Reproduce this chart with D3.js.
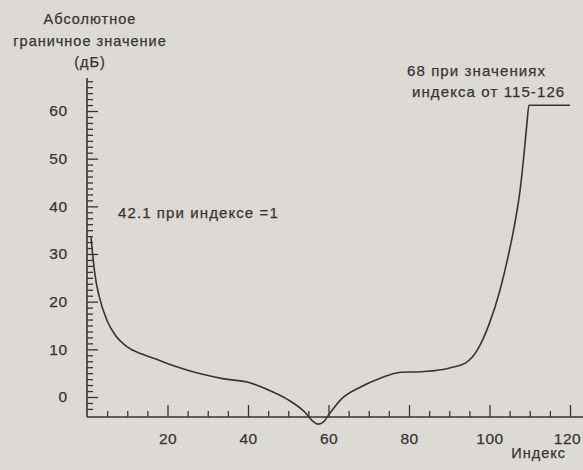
<!DOCTYPE html>
<html>
<head>
<meta charset="utf-8">
<script src="https://cdn.jsdelivr.net/npm/d3@7"></script>
<style>
  html, body { margin: 0; padding: 0; background: #ddd9d4; }
  svg { display: block; }
  text { font-family: "Liberation Sans", Arial, sans-serif; fill: #353535; stroke: #353535; stroke-width: 0.25px; }
</style>
</head>
<body>
<svg id="chart" width="583" height="470"></svg>
<script>
// ---- data ----
const indexValues = [1, 2, 3, 5, 7, 10, 14, 17, 21, 25, 29, 34, 40, 45, 50, 54, 56, 57.3, 58.8, 60, 63, 68, 73, 78, 83, 88, 91, 94, 97, 100, 102.6, 104.6, 106.3, 107.6, 108.5, 109.3, 109.8, 120];
const limitDb     = [33.5, 25.5, 21.2, 16, 13, 10.5, 8.9, 8.0, 6.7, 5.6, 4.7, 3.8, 3.1, 1.5, -0.6, -3.1, -5.0, -5.7, -5.2, -3.8, -0.6, 2.1, 4, 5.2, 5.3, 5.7, 6.3, 7.1, 9.9, 15.5, 22.4, 29.4, 36.5, 43.4, 50.3, 57.4, 61.2, 61.2];
const xMajorTicks = [20, 40, 60, 80, 100, 120];
const yMajorTicks = [0, 10, 20, 30, 40, 50, 60];
const yLabelLines = ["Абсолютное", "граничное значение", "(дБ)"];
const xLabel = "Индекс";
const noteLeft = ["42.1 при индексе =1"];
const noteRight = ["68 при значениях", "индекса от 115-126"];

// ---- layout ----
const svg = d3.select("#chart");
const x = d3.scaleLinear().domain([0, 120]).range([87, 570]);
const y = d3.scaleLinear().domain([0, 60]).range([397, 111]);
const yAxisTop = 66.9, yAxisBottom = -4.2;
const xAxisRight = 123.5;
const ink = "#353535";

const xMinor = d3.range(5, 125, 5).filter(v => v % 20 !== 0);
const yMinor = d3.range(-2.5, 66.3, 1.25).filter(v => Math.abs(v % 10) > 1e-6);

const labelFont = (g, ls) => g.selectAll("text")
  .style("font-size", "15.5px")
  .style("letter-spacing", ls)
  .style("font-family", "Liberation Sans, Arial, sans-serif")
  .attr("fill", "#353535");

// Y axis: minor ticks (right side)
const gyMinor = svg.append("g").attr("transform", `translate(${x(0)},0)`)
  .call(d3.axisRight(y).tickValues(yMinor).tickSize(6).tickFormat(""));
// Y axis: major ticks
const gyMajor = svg.append("g").attr("transform", `translate(${x(0)},0)`)
  .call(d3.axisRight(y).tickValues(yMajorTicks).tickSize(11).tickFormat(""));
// Y labels (left)
const gyLab = svg.append("g").attr("transform", `translate(${x(0) - 19},0)`)
  .call(d3.axisLeft(y).tickValues(yMajorTicks).tickSize(0).tickPadding(0));
gyLab.select(".domain").remove();
labelFont(gyLab, "0.8px");
[gyMinor, gyMajor].forEach(g => { g.select(".domain").remove(); g.selectAll("line").attr("stroke", ink).attr("stroke-width", 1.3); });

// Y axis domain line
svg.append("line")
  .attr("x1", x(0)).attr("x2", x(0))
  .attr("y1", y(yAxisTop)).attr("y2", y(yAxisBottom))
  .attr("stroke", ink).attr("stroke-width", 1.6);

// X axis line
const xAxisY = y(yAxisBottom);
svg.append("line")
  .attr("x1", x(0)).attr("x2", x(xAxisRight))
  .attr("y1", xAxisY).attr("y2", xAxisY)
  .attr("stroke", ink).attr("stroke-width", 1.6);

// X ticks (pointing up)
const gxMinor = svg.append("g").attr("transform", `translate(0,${xAxisY})`)
  .call(d3.axisTop(x).tickValues(xMinor).tickSize(6).tickFormat(""));
const gxMajor = svg.append("g").attr("transform", `translate(0,${xAxisY})`)
  .call(d3.axisTop(x).tickValues(xMajorTicks).tickSize(12).tickFormat(""));
[gxMinor, gxMajor].forEach(g => { g.select(".domain").remove(); g.selectAll("line").attr("stroke", ink).attr("stroke-width", 1.3); });
// X labels
const gxLab = svg.append("g").attr("transform", `translate(0,${xAxisY + 16})`)
  .call(d3.axisBottom(x).tickValues(xMajorTicks).tickSize(0).tickPadding(0));
gxLab.select(".domain").remove();
labelFont(gxLab, "0.5px");
gxLab.selectAll("text").filter(d => d === 120).attr("dx", "-3");

// Curve
const pts = indexValues.map((d, i) => [d, limitDb[i]]);
svg.append("path")
  .datum(pts)
  .attr("fill", "none")
  .attr("stroke", ink)
  .attr("stroke-width", 1.6)
  .attr("stroke-linejoin", "round")
  .attr("d", d3.line().x(d => x(d[0])).y(d => y(d[1])).curve(d3.curveMonotoneX));

// Y axis title
svg.append("text")
  .attr("x", 90).attr("y", 24)
  .attr("text-anchor", "middle")
  .style("font-size", "14.5px")
  .style("letter-spacing", "1px")
  .selectAll("tspan").data(yLabelLines).join("tspan")
  .attr("x", 90).attr("dy", (d, i) => i === 0 ? 0 : 21.5)
  .text(d => d);

// X axis title
svg.append("text")
  .attr("x", 566).attr("y", 458)
  .attr("text-anchor", "end")
  .style("font-size", "14.5px")
  .style("letter-spacing", "1px")
  .text(xLabel);

// Annotations
svg.append("text")
  .attr("x", 118).attr("y", 218)
  .style("font-size", "15px")
  .style("letter-spacing", "1.1px")
  .text(noteLeft[0]);

svg.append("text")
  .attr("y", 76)
  .style("font-size", "15px")
  .style("letter-spacing", "1.1px")
  .selectAll("tspan").data(noteRight).join("tspan")
  .attr("x", (d, i) => i === 0 ? 407 : 412)
  .attr("dy", (d, i) => i === 0 ? 0 : 21)
  .text(d => d);
</script>
</body>
</html>
